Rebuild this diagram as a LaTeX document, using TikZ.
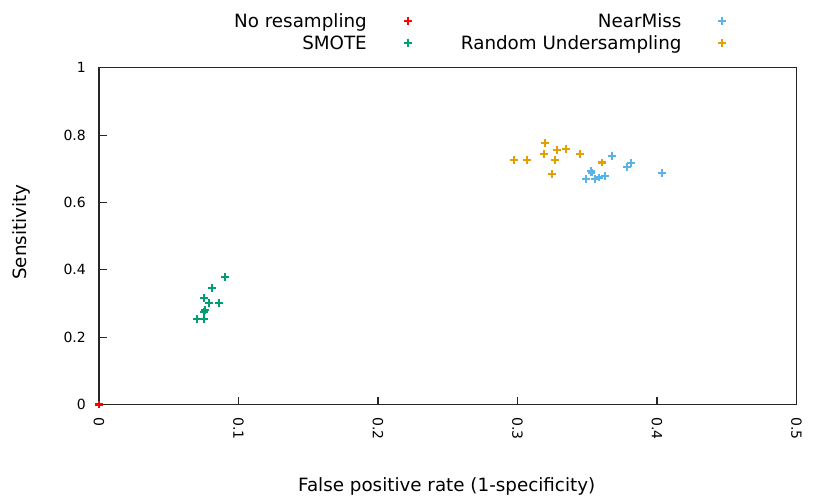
\documentclass[tikz,border=0pt]{standalone}
\usepackage{fontspec}
\setmainfont{DejaVu Sans}
\definecolor{cred}{HTML}{FF0000}
\definecolor{cgreen}{HTML}{009E73}
\definecolor{cblue}{HTML}{56B4E9}
\definecolor{corange}{HTML}{E69F00}
\begin{document}
\begin{tikzpicture}[x=1pt,y=-1pt,
  frame/.style={line width=1.3pt,black!85},
  tickmark/.style={line width=1.1pt,black!85},
  ticklab/.style={inner sep=0pt,font=\fontsize{14}{16}\selectfont},
  biglab/.style={inner sep=0pt,font=\fontsize{18.3}{20}\selectfont},
  plusmark/.pic={\draw[line width=2.3pt] (-3.9,0)--(3.9,0) (0,-3.9)--(0,3.9);}]
\useasboundingbox (0,0) rectangle (830,498);
\fill[white] (0,0) rectangle (830,498);
% frame
\draw[frame] (99,67.7) rectangle (796.5,404.5);
% y ticks
\foreach \v/\l [count=\i from 0] in {0/0,0.2/0.2,0.4/0.4,0.6/0.6,0.8/0.8,1/1}{
  \pgfmathsetmacro\yy{404.5-\v*336.8}
  \draw[tickmark] (99,\yy) -- (107,\yy);
  \node[ticklab,anchor=east] (yl\i) at (86,\yy) {\l};
}
% x ticks
\foreach \v/\l [count=\i from 0] in {0/0,0.1/0.1,0.2/0.2,0.3/0.3,0.4/0.4,0.5/0.5}{
  \pgfmathsetmacro\xx{99+\v*1395}
  \draw[tickmark] (\xx,404.5) -- (\xx,396.5);
  \node[ticklab,anchor=west,rotate=-90] (xl\i) at (\xx,417) {\l};
}
% axis labels
\node[biglab,anchor=base] (xlabel) at (446.7,491) {False positive rate (1-specificity)};
\node[biglab,anchor=base,rotate=90] (ylabel) at (26.5,232) {Sensitivity};
% legend
\node[biglab,anchor=base east] (lg1) at (367,27.3) {No resampling};
\node[biglab,anchor=base east] (lg2) at (367,49.3) {SMOTE};
\node[biglab,anchor=base east] (lg3) at (681.7,27.3) {NearMiss};
\node[biglab,anchor=base east] (lg4) at (681.7,49.3) {Random Undersampling};
\pic[cred] at (408.3,20.7) {plusmark};
\pic[cgreen] at (408.3,42.7) {plusmark};
\pic[cblue] at (722.3,20.7) {plusmark};
\pic[corange] at (722.3,42.7) {plusmark};
% data: orange (Random Undersampling)
\foreach \p in {(545,142.7),(514,160),(527.3,160),(544.3,154.3),(556.7,150),(565.7,149.3),(555.3,160.3),(580.3,154.3),(601.7,162.5),(552,174.3)}
  \pic[corange] at \p {plusmark};
% data: blue (NearMiss)
\foreach \p in {(611.7,155.7),(626.7,167.3),(631.3,163.3),(662,172.7),(590.7,171.3),(591.5,172.5),(586,179.3),(595.2,179.3),(599.3,177.5),(605,175.8)}
  \pic[cblue] at \p {plusmark};
% data: green (SMOTE)
\foreach \p in {(225.3,276.7),(212,287.7),(204.3,298.3),(208.7,302.7),(219,303.3),(205.3,310),(204,311.7),(196.7,319),(204.3,319)}
  \pic[cgreen] at \p {plusmark};
% data: red (No resampling)
\pic[cred] at (99,404.5) {plusmark};
\end{tikzpicture}
\end{document}
